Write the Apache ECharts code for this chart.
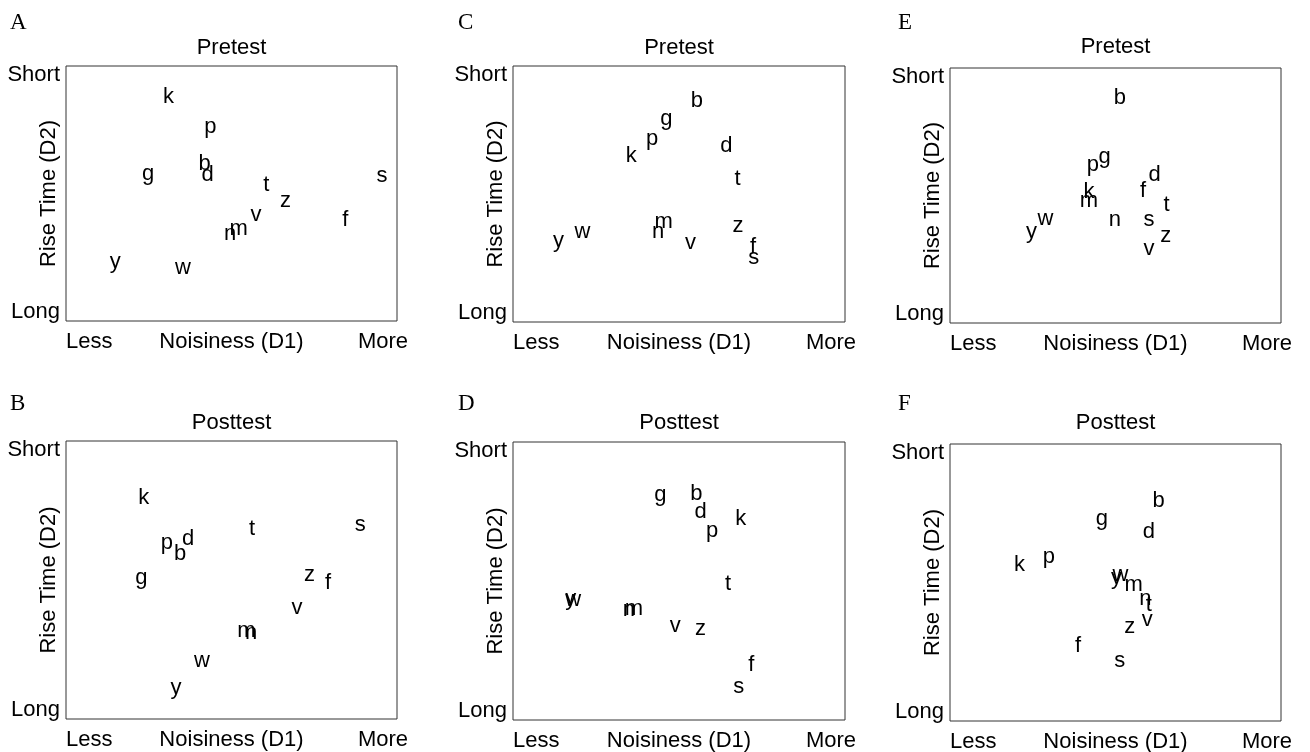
<!DOCTYPE html>
<html>
<head>
<meta charset="utf-8">
<script src="https://cdn.jsdelivr.net/npm/echarts@6/dist/echarts.min.js"></script>
<style>
html,body{margin:0;padding:0;background:#fff;}
#chart{width:1310px;height:752px;}
</style>
</head>
<body>
<div id="chart"></div>
<script>
// ---- DATA ----
const letters = ['b','d','f','g','k','m','n','p','s','t','v','w','y','z'];
// Normalized positions: x 0 (Less) .. 100 (More), y 0 (Long) .. 100 (Short)
const panelA_x = [41.9,42.8,84.4,24.8,31.0,52.2,49.6,43.6,95.5,60.5,57.4,35.3,14.9,66.3];
const panelA_y = [62.5,58.2,40.3,58.6,88.6,36.8,35.1,76.9,57.6,54.3,42.3,21.7,24.0,47.8];
const panelB_x = [34.5,36.9,79.2,22.8,23.5,54.5,55.9,30.5,88.9,56.2,69.8,41.1,33.2,73.6];
const panelB_y = [60.0,65.4,49.8,51.6,80.3,32.3,31.5,64.2,70.5,69.0,40.5,21.5,12.0,52.5];
const panelC_x = [55.4,64.3,72.3,46.2,35.6,45.4,43.7,41.9,72.5,67.6,53.5,20.9,13.7,67.8];
const panelC_y = [87.2,69.4,30.2,80.2,65.8,40.0,35.9,72.4,25.7,56.7,31.6,35.9,32.6,38.3];
const panelD_x = [55.2,56.5,71.8,44.4,68.6,36.4,34.9,60.0,68.0,64.8,48.9,18.1,17.4,56.5];
const panelD_y = [81.9,75.5,20.6,81.5,72.9,40.5,40.4,68.8,12.6,49.5,34.5,44.0,44.1,33.3];
const panelE_x = [51.3,61.8,58.3,46.7,42.0,42.0,49.8,43.2,60.1,65.4,60.1,28.8,24.6,65.2];
const panelE_y = [89.0,58.7,52.7,65.8,52.2,48.5,41.3,62.6,41.3,46.9,29.9,41.6,36.5,34.8];
const panelF_x = [63.0,60.1,38.7,45.9,21.0,55.5,59.0,29.9,51.3,60.1,59.6,51.5,50.3,54.3];
const panelF_y = [80.1,68.8,27.9,73.6,57.0,49.8,44.8,59.8,22.4,42.8,37.2,53.4,52.5,34.8];

const panelLetters = ['A','B','C','D','E','F'];
const panelTitles = ['Pretest','Posttest','Pretest','Posttest','Pretest','Posttest'];
const xTickLabels = ['Less','More'];
const yTickLabels = ['Long','Short'];
const xAxisTitle = 'Noisiness (D1)';
const yAxisTitle = 'Rise Time (D2)';

// ---- LAYOUT ----
const panelData = [
  [panelA_x, panelA_y], [panelB_x, panelB_y], [panelC_x, panelC_y],
  [panelD_x, panelD_y], [panelE_x, panelE_y], [panelF_x, panelF_y]
];
const boxes = [
  {left:66, top:66, width:331, height:255, lx:10, ly:23, ty:48},
  {left:66, top:441, width:331, height:278, lx:10, ly:404, ty:423},
  {left:513, top:66, width:332, height:256, lx:458, ly:23, ty:48},
  {left:513, top:442, width:332, height:278, lx:458, ly:404, ty:423},
  {left:950, top:68, width:331, height:255, lx:898, ly:23, ty:47},
  {left:950, top:444, width:331, height:277, lx:898, ly:404, ty:423}
];
const SANS = '"Liberation Sans", Arial, sans-serif';
const SERIF = '"Liberation Serif", "Times New Roman", serif';
const FS = 22;

const grids = [], xAxes = [], yAxes = [], series = [], graphics = [];
function txt(x, y, text, align, opts) {
  opts = opts || {};
  return {
    type: 'text', x: x, y: y, rotation: opts.rotation || 0, silent: true,
    style: {
      text: text, fill: '#000', fontSize: opts.fontSize || FS,
      fontFamily: opts.fontFamily || SANS,
      align: align, verticalAlign: 'middle'
    }
  };
}
boxes.forEach((b, i) => {
  grids.push({left: b.left, top: b.top, width: b.width, height: b.height,
    show: true, borderColor: '#333', borderWidth: 1, backgroundColor: 'transparent', containLabel: false});
  xAxes.push({type: 'value', gridIndex: i, min: 0, max: 100, show: false});
  yAxes.push({type: 'value', gridIndex: i, min: 0, max: 100, show: false});
  const xs = panelData[i][0], ys = panelData[i][1];
  series.push({
    type: 'scatter', xAxisIndex: i, yAxisIndex: i,
    symbolSize: 1, itemStyle: {color: 'rgba(0,0,0,0)'},
    label: {show: true, position: 'inside', offset: [0, 2], formatter: '{b}', color: '#000',
      textBorderWidth: 0, opacity: 1,
      fontSize: FS, fontFamily: SANS},
    emphasis: {disabled: true},
    data: letters.map((l, k) => ({name: l, value: [xs[k], ys[k]]}))
  });
  const cx = b.left + b.width / 2, cy = b.top + b.height / 2;
  const bottom = b.top + b.height, right = b.left + b.width;
  graphics.push(txt(b.lx, b.ly, panelLetters[i], 'left', {fontFamily: SERIF, fontSize: 23}));
  graphics.push(txt(cx, b.ty, panelTitles[i], 'center'));
  graphics.push(txt(b.left - 6, b.top + 9, yTickLabels[1], 'right'));
  graphics.push(txt(b.left - 6, bottom - 9, yTickLabels[0], 'right'));
  graphics.push(txt(b.left - 17, cy, yAxisTitle, 'center', {rotation: Math.PI / 2}));
  graphics.push(txt(b.left, bottom + 21, xTickLabels[0], 'left'));
  graphics.push(txt(cx, bottom + 21, xAxisTitle, 'center'));
  graphics.push(txt(right + 11, bottom + 21, xTickLabels[1], 'right'));
});

const chart = echarts.init(document.getElementById('chart'), null, {renderer: 'canvas'});
chart.setOption({
  animation: false,
  backgroundColor: '#fff',
  grid: grids, xAxis: xAxes, yAxis: yAxes, series: series,
  graphic: graphics
});
</script>
</body>
</html>
